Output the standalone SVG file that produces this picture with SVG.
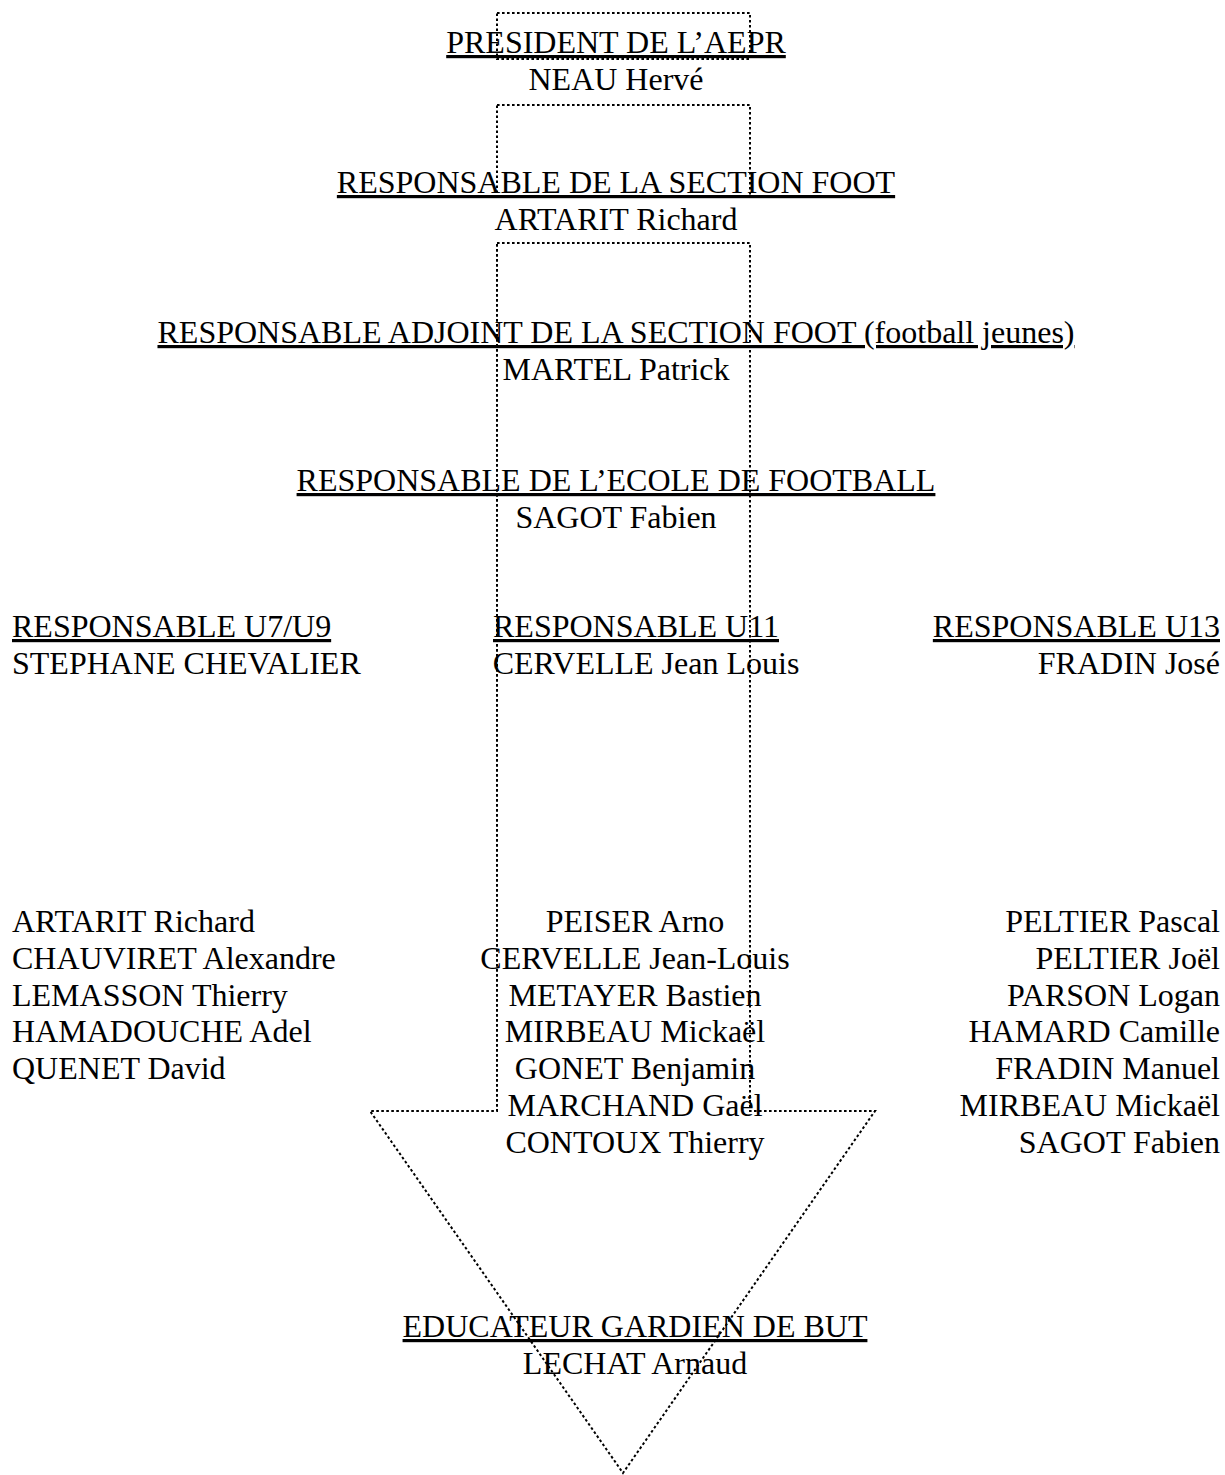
<svg xmlns="http://www.w3.org/2000/svg" width="1225" height="1475" viewBox="0 0 1225 1475">
<style>
.sh{fill:none;stroke:#000;stroke-width:2;stroke-dasharray:2.6 2.4}
text{font-family:"Liberation Serif","Times New Roman",serif;font-size:32px;fill:#000}
.c{text-anchor:middle}
.r{text-anchor:end}
.u{text-decoration:underline}
</style>
<rect width="1225" height="1475" fill="#fff"/>
<g id="connectors">
<rect class="sh" x="497" y="13" width="253" height="46"/>
<rect class="sh" x="497" y="105" width="253" height="91"/>
<path class="sh" d="M497,243 H750 V1111 H875 L623,1473 L370,1111 H497 Z"/>
</g>
<g id="president">
<text class="c u" x="616" y="53">PRESIDENT DE L’AEPR</text>
<text class="c" x="616" y="90">NEAU Hervé</text>
</g>
<g id="resp-section">
<text class="c u" x="616" y="193">RESPONSABLE DE LA SECTION FOOT</text>
<text class="c" x="616" y="230">ARTARIT Richard</text>
</g>
<g id="resp-adjoint">
<text class="c u" x="616" y="343">RESPONSABLE ADJOINT DE LA SECTION FOOT (football jeunes)</text>
<text class="c" x="616" y="380">MARTEL Patrick</text>
</g>
<g id="resp-ecole">
<text class="c u" x="616" y="491">RESPONSABLE DE L’ECOLE DE FOOTBALL</text>
<text class="c" x="616" y="528">SAGOT Fabien</text>
</g>
<g id="u7u9">
<text class="u" x="12" y="637">RESPONSABLE U7/U9</text>
<text x="12" y="674">STEPHANE CHEVALIER</text>
<text x="12" y="932">ARTARIT Richard</text>
<text x="12" y="969">CHAUVIRET Alexandre</text>
<text x="12" y="1006">LEMASSON Thierry</text>
<text x="12" y="1042">HAMADOUCHE Adel</text>
<text x="12" y="1079">QUENET David</text>
</g>
<g id="u11">
<text class="c u" x="636" y="637">RESPONSABLE U11</text>
<text class="c" x="646" y="674">CERVELLE Jean Louis</text>
<text class="c" x="635" y="932">PEISER Arno</text>
<text class="c" x="635" y="969">CERVELLE Jean-Louis</text>
<text class="c" x="635" y="1006">METAYER Bastien</text>
<text class="c" x="635" y="1042">MIRBEAU Mickaël</text>
<text class="c" x="635" y="1079">GONET Benjamin</text>
<text class="c" x="635" y="1116">MARCHAND Gaël</text>
<text class="c" x="635" y="1153">CONTOUX Thierry</text>
</g>
<g id="u13">
<text class="r u" x="1220" y="637">RESPONSABLE U13</text>
<text class="r" x="1220" y="674">FRADIN José</text>
<text class="r" x="1220" y="932">PELTIER Pascal</text>
<text class="r" x="1220" y="969">PELTIER Joël</text>
<text class="r" x="1220" y="1006">PARSON Logan</text>
<text class="r" x="1220" y="1042">HAMARD Camille</text>
<text class="r" x="1220" y="1079">FRADIN Manuel</text>
<text class="r" x="1220" y="1116">MIRBEAU Mickaël</text>
<text class="r" x="1220" y="1153">SAGOT Fabien</text>
</g>
<g id="gardien">
<text class="c u" x="635" y="1337">EDUCATEUR GARDIEN DE BUT</text>
<text class="c" x="635" y="1374">LECHAT Arnaud</text>
</g>
</svg>
